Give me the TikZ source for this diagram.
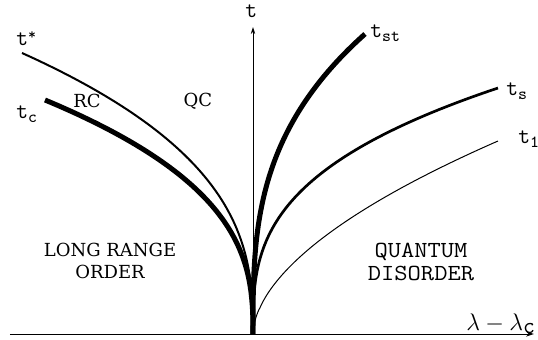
\documentclass[tikz,border=0pt]{standalone}
\usepackage{fontspec}
\setmainfont{DejaVu Serif}
\usetikzlibrary{arrows.meta}
\begin{document}
\begin{tikzpicture}[x=0.5pt,y=-0.5pt,
  axisline/.style={line width=0.5pt,-{Stealth[length=4pt,width=2.6pt]}},
  vaxis/.style={line width=0.45pt,-{Stealth[length=3.5pt,width=2.2pt]}},
  thinc/.style={line width=0.5pt},
  medc/.style={line width=1.0pt},
  semic/.style={line width=1.35pt},
  thickc/.style={line width=2.5pt},
  seriflbl/.style={inner sep=0pt,align=center,font=\fontsize{9}{11}\selectfont},
  monolbl/.style={inner sep=0pt,align=center,xscale=1.12,font=\ttfamily\fontsize{11.5}{11.5}\selectfont},
  tlbl/.style={inner sep=0pt,anchor=base west,font=\ttfamily\fontsize{11.5}{12}\selectfont}
]
\useasboundingbox (0,0) rectangle (538,339);

\coordinate (O) at (253,334);
\coordinate (XL) at (10,334);
\coordinate (XR) at (534,334);
\coordinate (YT) at (253,27);

% thin t_1 curve
\draw[thinc] plot[domain=1:0.01,samples=80,variable=\s] ({253+245*\s^1.8},{334-193*\s}) -- (O);

% axes
\draw[axisline] (XL) -- (XR);
\draw[vaxis] (O) -- (YT);

% t* curve
\draw[medc] plot[domain=1:0.01,samples=80,variable=\s] ({253-231*\s^2.7},{334-281*\s}) -- (O);
% t_s curve
\draw[semic] plot[domain=1:0.01,samples=80,variable=\s] ({253+245*\s^3},{334-246*\s}) -- (O);
% t_c curve
\draw[thickc] plot[domain=1:0.01,samples=80,variable=\s] ({253-208*\s^2.7},{334-234*\s}) -- (O);
% t_st curve
\draw[thickc] plot[domain=1:0.01,samples=80,variable=\s] ({253+112*\s^3},{334-300*\s}) -- (O);

% labels
\node[tlbl] (tl) at (245,17) {t};
\node[tlbl] (tstar) at (16,45) {t\raisebox{3pt}{\fontsize{7.5}{8}\selectfont *}};
\node[tlbl] (tc) at (16,118) {t\raisebox{-2pt}{\fontsize{8.5}{9}\selectfont c}};
\node[tlbl] (tst) at (370,37) {t\raisebox{-2pt}{\fontsize{8.5}{9}\selectfont st}};
\node[tlbl] (ts) at (506,95) {t\raisebox{-2pt}{\fontsize{8.5}{9}\selectfont s}};
\node[tlbl] (t1) at (518,143) {t\raisebox{-2pt}{\fontsize{8.5}{9}\selectfont 1}};

\node[seriflbl] (rc) at (87,101) {RC};
\node[seriflbl] (qc) at (198,101) {QC};
\node[seriflbl] (lro) at (110,261) {LONG RANGE\\ORDER};
\node[monolbl] (qd) at (421,262) {QUANTUM\\DISORDER};
\node[inner sep=0pt,anchor=base west,font=\fontsize{11.5}{12}\selectfont] (xl) at (466,330) {$\lambda - \lambda_{\texttt{c}}$};
\end{tikzpicture}
\end{document}
